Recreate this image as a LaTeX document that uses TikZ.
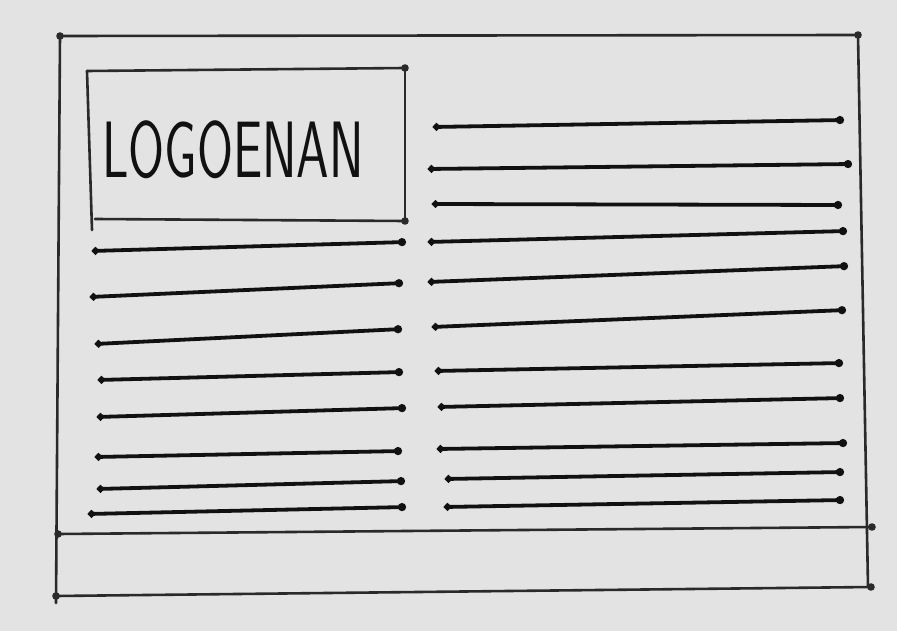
\documentclass[tikz,border=0pt]{standalone}
\usetikzlibrary{arrows.meta}
\definecolor{paper}{HTML}{E3E3E3}
\definecolor{ink}{HTML}{111111}
\definecolor{frameink}{HTML}{2A2A2A}
\tikzset{
  textline/.style={draw=ink, line width=3.8pt, line cap=round, {Circle[length=7pt]}-{Circle[length=8pt]}},
  frameline/.style={draw=frameink, line width=2.6pt, line cap=round},
  framedot/.style={fill=frameink, draw=none},
  logotext/.style={text=ink, font=\sffamily\fontsize{80}{80}\selectfont, inner sep=0pt}
}
\begin{document}
\begin{tikzpicture}[x=1pt,y=-1pt]
\fill[paper] (0,0) rectangle (897,631);
\useasboundingbox (0,0) rectangle (897,631);
% outer frame corners
\coordinate (tl) at (60,36);
\coordinate (tr) at (858,35);
\coordinate (fl) at (58,534);
\coordinate (fr) at (872,527);
\coordinate (bl) at (56,596);
\coordinate (br) at (871,587);
\coordinate (blend) at (56,603);
\draw[frameline] (tl) -- (tr);
\draw[frameline] (tl) -- (blend);
\draw[frameline] (tr) -- (868,587);
\draw[frameline] (fl) -- (fr);
\draw[frameline] (bl) -- (br);
\foreach \p in {tl,tr,fl,bl,br,fr} \fill[framedot] (\p) circle (3.8pt);
% logo box
\coordinate (ltl) at (87,71);
\coordinate (ltr) at (405,68);
\coordinate (lbl) at (92,230);
\coordinate (lbr) at (405,221);
\draw[frameline] (ltl) -- (ltr);
\draw[frameline] (ltl) -- (lbl);
\draw[frameline] (95,219) -- (lbr);
\draw[frameline] (ltr) -- (lbr);
\fill[framedot] (ltr) circle (3.8pt);
\fill[framedot] (lbr) circle (3.8pt);
\node[logotext] (logo) at (233,150) {\scalebox{0.65}[1]{LOGOENAN}};
% left column lines
\draw[textline] (92,251) -- (406,242);
\draw[textline] (90,297) -- (403,283);
\draw[textline] (95,344) -- (402,329);
\draw[textline] (98,380) -- (403,372);
\draw[textline] (97,417) -- (406,408);
\draw[textline] (95,457) -- (402,451);
\draw[textline] (97,489) -- (405,481);
\draw[textline] (88,514) -- (406,507);
% right column lines
\draw[textline] (433,127) -- (844,120);
\draw[textline] (428,169) -- (852,164);
\draw[textline] (432,204) -- (842,205);
\draw[textline] (428,242) -- (847,231);
\draw[textline] (428,282) -- (848,266);
\draw[textline] (432,327) -- (846,310);
\draw[textline] (435,371) -- (843,363);
\draw[textline] (438,407) -- (844,398);
\draw[textline] (437,449) -- (847,443);
\draw[textline] (445,479) -- (844,472);
\draw[textline] (444,507) -- (844,500);
\end{tikzpicture}
\end{document}
